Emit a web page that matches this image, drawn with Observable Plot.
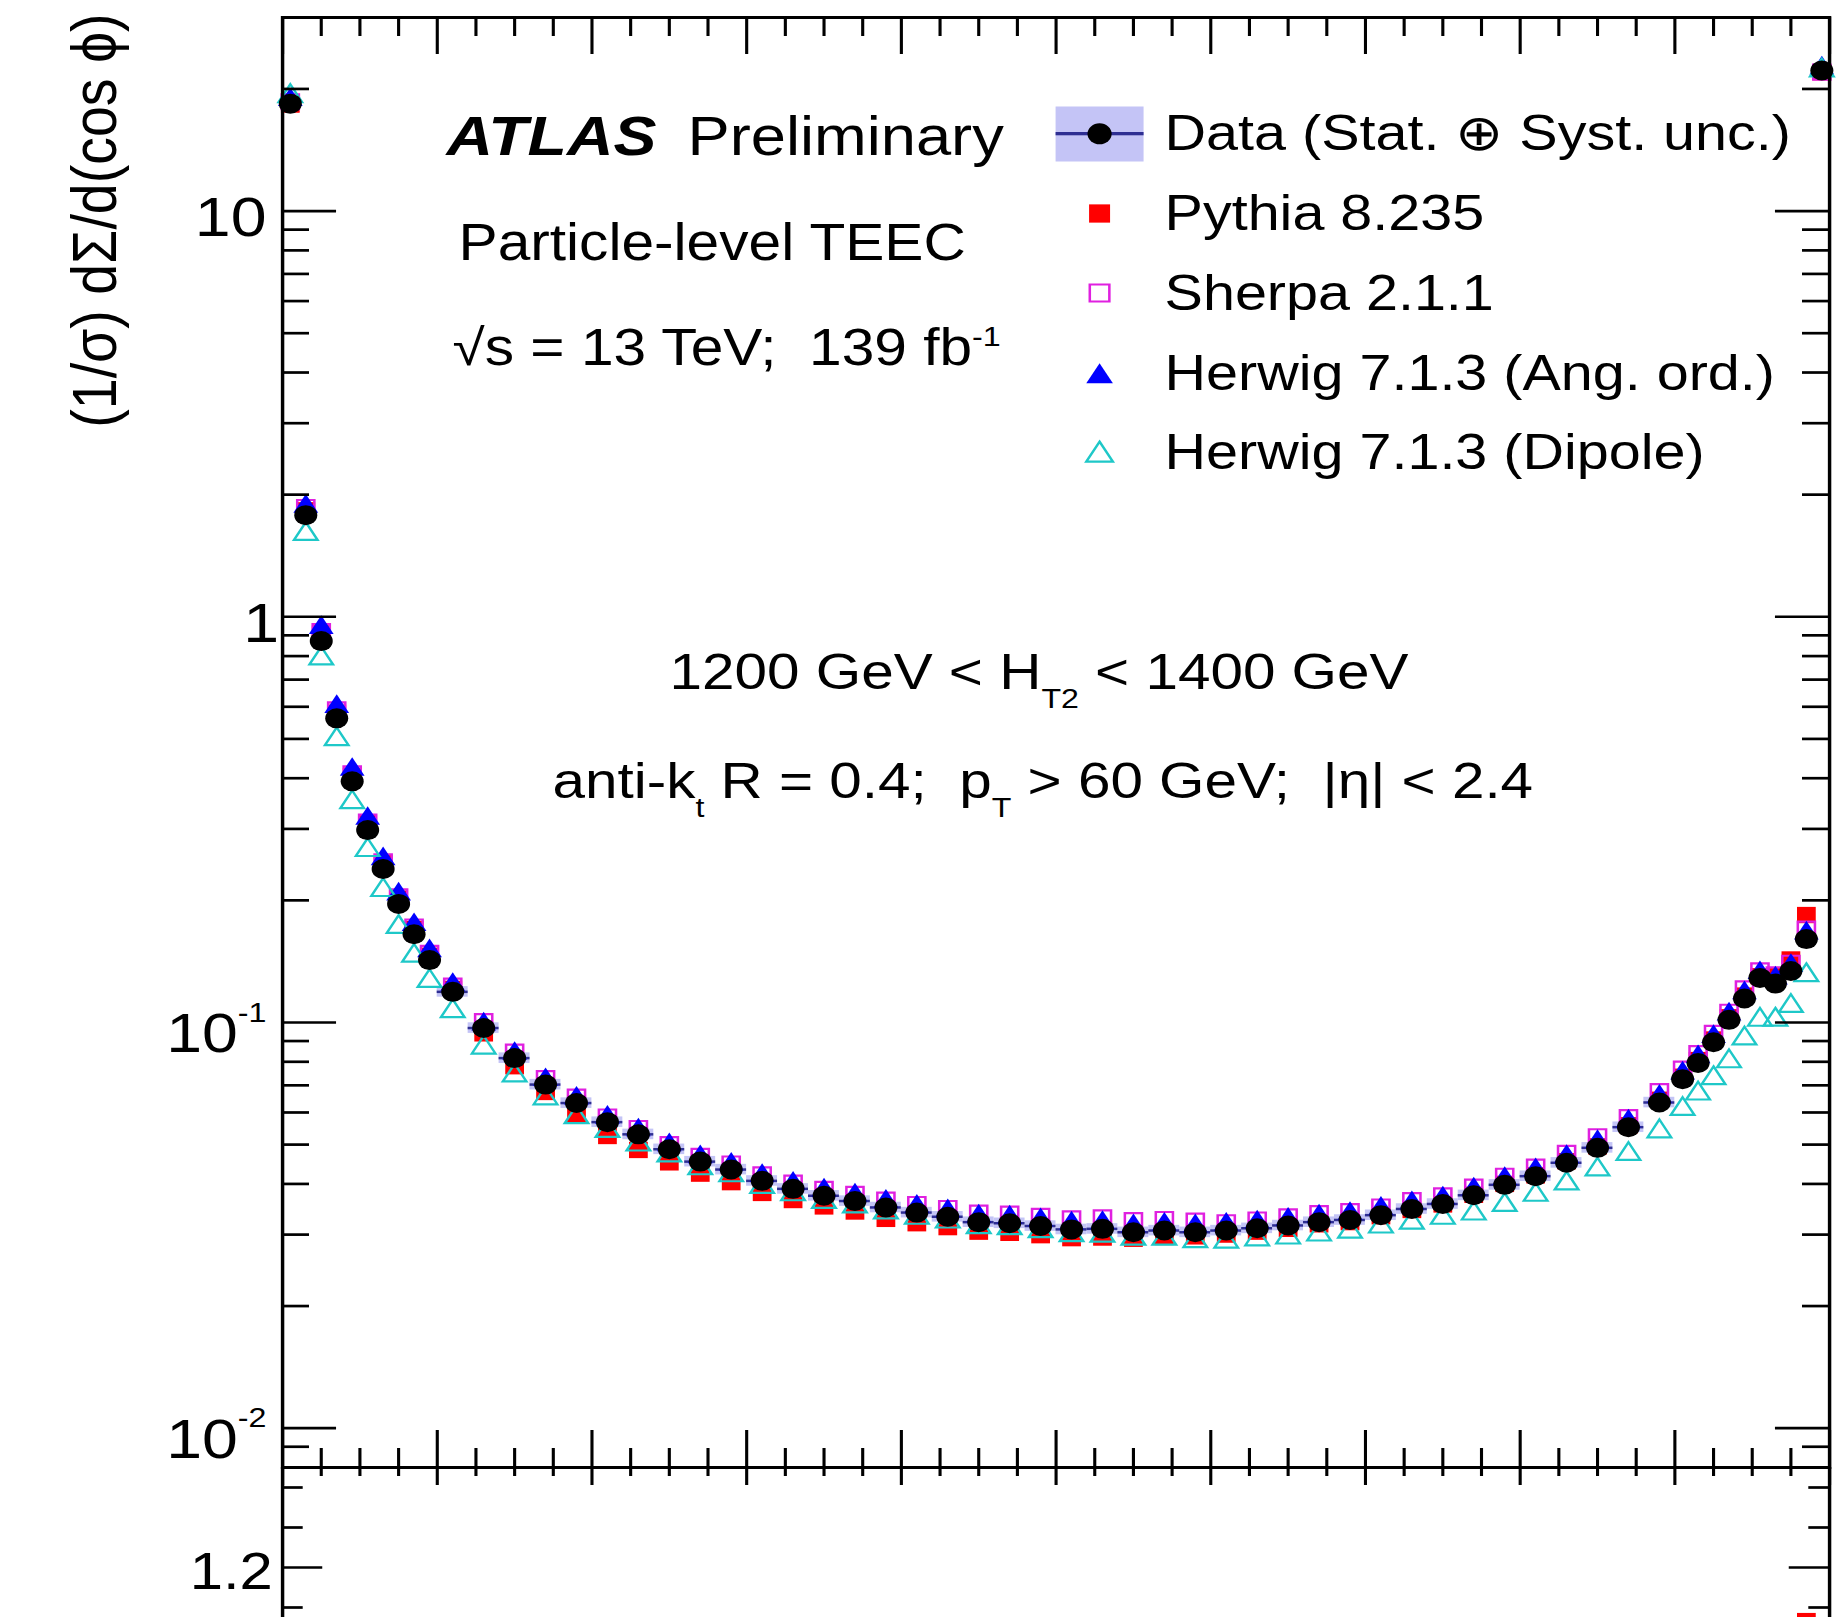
<!DOCTYPE html>
<html>
<head>
<meta charset="utf-8">
<script src="https://cdn.jsdelivr.net/npm/d3@7"></script>
<script src="https://cdn.jsdelivr.net/npm/@observablehq/plot@0.6"></script>
<style>
  html, body { margin: 0; padding: 0; background: #fff; overflow: hidden; }
  #chart { position: relative; width: 1839px; height: 1617px; overflow: hidden; background: #fff; }
  #chart svg { position: absolute; left: 0; }
  #chart text { white-space: pre; }
</style>
</head>
<body>
<div id="chart"></div>
<script>
// ---------------- data ----------------
const binEdges = [
  -1, -0.98, -0.96, -0.94, -0.92, -0.9, -0.88, -0.86, -0.84, -0.82, -0.8,
  -0.76, -0.72, -0.68, -0.64, -0.6, -0.56, -0.52, -0.48, -0.44, -0.4,
  -0.36, -0.32, -0.28, -0.24, -0.2, -0.16, -0.12, -0.08, -0.04, 0,
  0.04, 0.08, 0.12, 0.16, 0.2, 0.24, 0.28, 0.32, 0.36, 0.4,
  0.44, 0.48, 0.52, 0.56, 0.6, 0.64, 0.68, 0.72, 0.76, 0.8,
  0.82, 0.84, 0.86, 0.88, 0.9, 0.92, 0.94, 0.96, 0.98, 1
];
const dataValues = [
  18.4, 1.78, 0.871, 0.562, 0.393, 0.298, 0.239, 0.196, 0.165, 0.1425,
  0.119, 0.0969, 0.0817, 0.0703, 0.0633, 0.0568, 0.0530, 0.0487, 0.0454, 0.0434,
  0.0407, 0.0389, 0.0374, 0.0363, 0.0350, 0.0340, 0.0332, 0.0322, 0.0320, 0.0315,
  0.0309, 0.0310, 0.0304, 0.0307, 0.0304, 0.0307, 0.0311, 0.0316, 0.0322, 0.0326,
  0.0335, 0.0347, 0.0357, 0.0375, 0.0398, 0.0418, 0.0451, 0.0491, 0.0552, 0.0635,
  0.0725, 0.0795, 0.0894, 0.1015, 0.1146, 0.1288, 0.1247, 0.1339, 0.1605, 22.2
];
const dataRelUnc = [
  0.04, 0.04, 0.03, 0.03, 0.03, 0.03, 0.03, 0.03, 0.03, 0.03,
  0.03, 0.03, 0.03, 0.03, 0.03, 0.03, 0.03, 0.03, 0.03, 0.03,
  0.03, 0.03, 0.03, 0.03, 0.03, 0.03, 0.03, 0.03, 0.03, 0.03,
  0.03, 0.03, 0.03, 0.03, 0.03, 0.03, 0.03, 0.03, 0.03, 0.03,
  0.03, 0.03, 0.03, 0.03, 0.03, 0.03, 0.03, 0.03, 0.03, 0.03,
  0.03, 0.03, 0.03, 0.03, 0.03, 0.03, 0.03, 0.03, 0.04, 0.04
];
const pythia = [
  18.3, 1.83, 0.91, 0.58, 0.405, 0.31, 0.247, 0.202, 0.170, 0.146,
  0.121, 0.094, 0.078, 0.0674, 0.0590, 0.0525, 0.0485, 0.0452, 0.0424, 0.0404,
  0.0380, 0.0365, 0.0352, 0.0342, 0.0328, 0.0320, 0.0313, 0.0305, 0.0303, 0.0299,
  0.0294, 0.0295, 0.0293, 0.0296, 0.0297, 0.0300, 0.0305, 0.0310, 0.0318, 0.0322,
  0.0333, 0.0345, 0.0356, 0.0376, 0.0400, 0.0420, 0.0455, 0.0495, 0.0558, 0.0645,
  0.0735, 0.0808, 0.0908, 0.1030, 0.1165, 0.1300, 0.1300, 0.1430, 0.1840, 22.0
];
const sherpa = [
  18.6, 1.86, 0.92, 0.59, 0.41, 0.312, 0.249, 0.204, 0.172, 0.148,
  0.123, 0.1005, 0.0845, 0.0727, 0.0655, 0.0585, 0.0548, 0.0500, 0.0468, 0.0448,
  0.0421, 0.0402, 0.0388, 0.0377, 0.0365, 0.0356, 0.0348, 0.0339, 0.0337, 0.0333,
  0.0328, 0.0330, 0.0325, 0.0327, 0.0324, 0.0321, 0.0326, 0.0332, 0.0338, 0.0342,
  0.0351, 0.0364, 0.0374, 0.0393, 0.0418, 0.0440, 0.0476, 0.0523, 0.0583, 0.0676,
  0.0768, 0.0838, 0.0940, 0.1060, 0.1210, 0.1340, 0.1310, 0.1400, 0.1700, 22.0
];
const herwigAO = [
  18.8, 1.87, 0.94, 0.60, 0.42, 0.318, 0.253, 0.207, 0.174, 0.150,
  0.124, 0.099, 0.0838, 0.0722, 0.0650, 0.0583, 0.0543, 0.0499, 0.0466, 0.0447,
  0.0419, 0.0401, 0.0386, 0.0375, 0.0362, 0.0352, 0.0343, 0.0333, 0.0331, 0.0326,
  0.0320, 0.0321, 0.0315, 0.0318, 0.0315, 0.0318, 0.0322, 0.0327, 0.0333, 0.0338,
  0.0348, 0.0359, 0.0369, 0.0388, 0.0412, 0.0433, 0.0467, 0.0508, 0.0571, 0.0657,
  0.0750, 0.0822, 0.0922, 0.1048, 0.1182, 0.1325, 0.1285, 0.1380, 0.1660, 22.5
];
const herwigDipole = [
  19.2, 1.60, 0.789, 0.499, 0.349, 0.266, 0.212, 0.172, 0.146, 0.1265,
  0.1066, 0.0867, 0.0740, 0.0650, 0.0584, 0.0540, 0.0500, 0.0470, 0.0437, 0.0420,
  0.0393, 0.0377, 0.0361, 0.0352, 0.0340, 0.0330, 0.0323, 0.0313, 0.0311, 0.0306,
  0.0299, 0.0298, 0.0293, 0.0293, 0.0289, 0.0288, 0.0292, 0.0295, 0.0300, 0.0305,
  0.0314, 0.0321, 0.0330, 0.0338, 0.0355, 0.0376, 0.0401, 0.0434, 0.0474, 0.0539,
  0.0612, 0.0668, 0.0729, 0.0802, 0.0913, 0.1015, 0.1016, 0.1098, 0.1308, 22.2
];

// axis ticks
const xMajorTicks = [-1, -0.8, -0.6, -0.4, -0.2, 0, 0.2, 0.4, 0.6, 0.8, 1];
const xMinorTicks = [-0.95, -0.9, -0.85, -0.75, -0.7, -0.65, -0.55, -0.5, -0.45, -0.35, -0.3, -0.25,
  -0.15, -0.1, -0.05, 0.05, 0.1, 0.15, 0.25, 0.3, 0.35, 0.45, 0.5, 0.55, 0.65, 0.7, 0.75, 0.85, 0.9, 0.95];
const yMajorTicks = [0.01, 0.1, 1, 10];
const yMinorTicks = [0.008, 0.009, 0.02, 0.03, 0.04, 0.05, 0.06, 0.07, 0.08, 0.09,
  0.2, 0.3, 0.4, 0.5, 0.6, 0.7, 0.8, 0.9, 2, 3, 4, 5, 6, 7, 8, 9, 20, 30];
const yLabelPlain = [10];
const yLabelOne = [1];
const yLabelExp = [0.1, 0.01];
const yLabelExpText = ["10~{-1}", "10~{-2}"];
const ratioMajorTicks = [0.8, 1, 1.2];
const ratioMinorTicks = [0.72, 0.76, 0.84, 0.88, 0.92, 0.96, 1.04, 1.08, 1.12, 1.16, 1.24, 1.28];
const ratioLabelTicks = [1.2];   // the only ratio label inside the visible window

// texts
const yTitle = "(1/σ) dΣ/d(cos ϕ)";
const legendLabels = ["Data (Stat. ⊕ Syst. unc.)", "Pythia 8.235", "Sherpa 2.1.1",
  "Herwig 7.1.3 (Ang. ord.)", "Herwig 7.1.3 (Dipole)"];

// ---------------- layout ----------------
const S = 1.15;                       // horizontal stretch of the original figure
const FULL_W = 1839, FULL_H = 1617;
const W0 = FULL_W / S;
const ML = 282 / S, MR = W0 - 1829 / S, MT = 17, PANEL_BOTTOM = 1467;
const innerW = W0 - ML - MR;
const innerH1 = PANEL_BOTTOM - MT;
const RATIO_H = 600, RATIO_MB = 100;
const fx = xf => xf / S - ML;          // page x -> offset from frame left
const fy = yf => yf - MT;              // page y -> offset from frame top
const FONT = "'Liberation Sans', Arial, Helvetica, sans-serif";

const BAND = "#c4c4f6", NAVY = "#2e2e92", RED = "#ff0000", MAGENTA = "#e020e0",
      BLUE = "#0000ff", CYAN = "#1ec8c8";
const TW = 2.7;

const rows = dataValues.map((v, i) => ({
  lo: binEdges[i], hi: binEdges[i + 1], x: (binEdges[i] + binEdges[i + 1]) / 2,
  data: v, unc: dataRelUnc[i],
  pythia: pythia[i], sherpa: sherpa[i], herwigAO: herwigAO[i], herwigDipole: herwigDipole[i]
}));

const note = (txt, dx, dy, o = {}) => Plot.text([txt], {
  text: d => d, frameAnchor: "top-left", dx, dy, textAnchor: "start",
  lineAnchor: "bottom", fontSize: 50, fill: "black", ...o
});
const legendBaselines = [149, 229.5, 309.5, 389, 468.5];
const legendMarkerY = [133.3, 213, 292.5, 376, 454.5];
const LX = fx(1099);

// ---------------- upper panel ----------------
const upper = Plot.plot({
  width: W0, height: FULL_H,
  marginLeft: ML, marginRight: MR, marginTop: MT, marginBottom: FULL_H - PANEL_BOTTOM,
  style: {fontFamily: FONT, background: "white", color: "black"},
  x: {domain: [-1, 1], axis: null},
  y: {type: "log", domain: [0.008, 30], axis: null},
  marks: [
    // data uncertainty band and bin-width bars
    Plot.rect(rows, {x1: "lo", x2: "hi", y1: d => d.data * (1 - d.unc), y2: d => d.data * (1 + d.unc), fill: BAND}),
    Plot.ruleY(rows, {x1: "lo", x2: "hi", y: "data", stroke: NAVY, strokeWidth: 2.5}),
    // predictions
    Plot.dot(rows, {x: "x", y: "pythia", symbol: "square", r: 9.2, fill: RED}),
    Plot.dot(rows, {x: "x", y: "sherpa", symbol: "square", r: 8.4, fill: "none", stroke: MAGENTA, strokeWidth: 2.2}),
    Plot.dot(rows, {x: "x", y: "herwigAO", symbol: "triangle", r: 8, fill: BLUE}),
    Plot.dot(rows, {x: "x", y: "herwigDipole", symbol: "triangle", r: 7.6, fill: "none", stroke: CYAN, strokeWidth: 2.2}),
    // data
    Plot.dot(rows, {x: "x", y: "data", r: 10, fill: "black"}),

    // inward ticks
    Plot.tickY(yMajorTicks, {stroke: "black", strokeWidth: TW, insetRight: innerW - 47}),
    Plot.tickY(yMajorTicks, {stroke: "black", strokeWidth: TW, insetLeft: innerW - 47}),
    Plot.tickY(yMinorTicks, {stroke: "black", strokeWidth: TW, insetRight: innerW - 23.5}),
    Plot.tickY(yMinorTicks, {stroke: "black", strokeWidth: TW, insetLeft: innerW - 23.5}),
    Plot.tickX(xMajorTicks, {stroke: "black", strokeWidth: TW, insetBottom: innerH1 - 37}),
    Plot.tickX(xMajorTicks, {stroke: "black", strokeWidth: TW, insetTop: innerH1 - 37}),
    Plot.tickX(xMinorTicks, {stroke: "black", strokeWidth: TW, insetBottom: innerH1 - 19}),
    Plot.tickX(xMinorTicks, {stroke: "black", strokeWidth: TW, insetTop: innerH1 - 19}),
    Plot.frame({stroke: "black", strokeWidth: 3}),

    // tick labels
    Plot.text(yLabelPlain, {y: d => d, text: d => String(d), frameAnchor: "left", dx: -14, dy: 7, textAnchor: "end", fontSize: 56}),
    Plot.text(yLabelOne, {y: d => d, text: d => String(d), frameAnchor: "left", dx: -3, dy: 7, textAnchor: "end", fontSize: 56}),
    Plot.text(yLabelExp, {y: d => d, text: (d, i) => yLabelExpText[i], frameAnchor: "left", dx: -14, dy: 12, textAnchor: "end", fontSize: 56}),

    // y title
    Plot.text([yTitle], {text: d => d, frameAnchor: "top-left", dx: fx(115), dy: fy(13), rotate: -90,
      textAnchor: "end", lineAnchor: "bottom", fontSize: 55.5, fill: "black"}),

    // annotations
    note("ATLAS", fx(446), fy(154), {fontSize: 56, fontWeight: "bold", fontStyle: "italic"}),
    note("Preliminary", fx(687), fy(154), {fontSize: 55}),
    note("Particle-level TEEC", fx(458), fy(259), {fontSize: 51}),
    note("√s = 13 TeV;  139 fb^{-1}", fx(452), fy(364), {fontSize: 51}),
    note("1200 GeV < H_{T2} < 1400 GeV", fx(669), fy(688), {fontSize: 50.8}),
    note("anti-k_{t} R = 0.4;  p_{T} > 60 GeV;  |η| < 2.4", fx(552), fy(797), {fontSize: 50.8}),

    // legend
    Plot.frame({fill: BAND, stroke: "none", insetLeft: fx(1055), insetRight: innerW - fx(1143),
      insetTop: fy(106), insetBottom: innerH1 - fy(161)}),
    Plot.frame({fill: NAVY, stroke: "none", insetLeft: fx(1055), insetRight: innerW - fx(1143),
      insetTop: fy(131.5), insetBottom: innerH1 - fy(134.8)}),
    Plot.dot([0], {frameAnchor: "top-left", dx: LX, dy: fy(legendMarkerY[0]), r: 10.5, fill: "black"}),
    Plot.dot([0], {frameAnchor: "top-left", dx: LX, dy: fy(legendMarkerY[1]), r: 10.3, symbol: "square", fill: RED}),
    Plot.dot([0], {frameAnchor: "top-left", dx: LX, dy: fy(legendMarkerY[2]), r: 9.6, symbol: "square", fill: "none", stroke: MAGENTA, strokeWidth: 2.2}),
    Plot.dot([0], {frameAnchor: "top-left", dx: LX, dy: fy(legendMarkerY[3]), r: 8.6, symbol: "triangle", fill: BLUE}),
    Plot.dot([0], {frameAnchor: "top-left", dx: LX, dy: fy(legendMarkerY[4]), r: 8.6, symbol: "triangle", fill: "none", stroke: CYAN, strokeWidth: 2.2}),
    ...legendLabels.map((t, i) => note(t, fx(1164), fy(legendBaselines[i]), {fontSize: 50}))
  ]
});

// ---------------- ratio panel ----------------
const lower = Plot.plot({
  width: W0, height: RATIO_H + RATIO_MB,
  marginLeft: ML, marginRight: MR, marginTop: 0, marginBottom: RATIO_MB,
  style: {fontFamily: FONT, background: "transparent", color: "black"},
  x: {domain: [-1, 1], axis: null},
  y: {domain: [0.7, 1.3], axis: null},
  marks: [
    Plot.rect(rows, {x1: "lo", x2: "hi", y1: d => 1 - d.unc, y2: d => 1 + d.unc, fill: BAND, clip: true}),
    Plot.ruleY(rows, {x1: "lo", x2: "hi", y: () => 1, stroke: NAVY, strokeWidth: 2.5, clip: true}),
    Plot.dot(rows, {x: "x", y: d => d.pythia / d.data, symbol: "square", r: 9.2, fill: RED, clip: true}),
    Plot.dot(rows, {x: "x", y: d => d.sherpa / d.data, symbol: "square", r: 8.4, fill: "none", stroke: MAGENTA, strokeWidth: 2.2, clip: true}),
    Plot.dot(rows, {x: "x", y: d => d.herwigAO / d.data, symbol: "triangle", r: 8, fill: BLUE, clip: true}),
    Plot.dot(rows, {x: "x", y: d => d.herwigDipole / d.data, symbol: "triangle", r: 7.6, fill: "none", stroke: CYAN, strokeWidth: 2.2, clip: true}),

    Plot.tickY(ratioMajorTicks, {stroke: "black", strokeWidth: TW, insetRight: innerW - 35}),
    Plot.tickY(ratioMajorTicks, {stroke: "black", strokeWidth: TW, insetLeft: innerW - 35}),
    Plot.tickY(ratioMinorTicks, {stroke: "black", strokeWidth: TW, insetRight: innerW - 18}),
    Plot.tickY(ratioMinorTicks, {stroke: "black", strokeWidth: TW, insetLeft: innerW - 18}),
    Plot.tickX(xMajorTicks, {stroke: "black", strokeWidth: TW, insetBottom: RATIO_H - 18}),
    Plot.tickX(xMinorTicks, {stroke: "black", strokeWidth: TW, insetBottom: RATIO_H - 9}),
    Plot.frame({stroke: "black", strokeWidth: 3}),
    Plot.text(ratioLabelTicks, {y: d => d, text: d => String(d), frameAnchor: "left", dx: -8.5, dy: 5, textAnchor: "end", fontSize: 52})
  ]
});

// ---------------- mount ----------------
const chart = document.getElementById("chart");
chart.append(upper, lower);
function stretch(svg, h, topPx) {
  svg.setAttribute("width", FULL_W);
  svg.setAttribute("height", h);
  svg.setAttribute("preserveAspectRatio", "none");
  svg.style.width = FULL_W + "px";
  svg.style.height = h + "px";
  svg.style.maxWidth = "none";
  svg.style.top = topPx + "px";
}
stretch(upper, FULL_H, 0);
stretch(lower, RATIO_H + RATIO_MB, PANEL_BOTTOM);

// sub/superscript markup:  ^{..} superscript, _{..} subscript, ~{..} exponent of a tick label
const KIND = {"^": {scale: 0.55, shift: -0.37}, "_": {scale: 0.55, shift: 0.38}, "~": {scale: 0.5, shift: -0.55}};
function richText(svg) {
  svg.querySelectorAll("text").forEach(t => {
    const s = t.textContent;
    if (!/[\^_~]\{/.test(s)) return;
    const fs = parseFloat(getComputedStyle(t).fontSize) || 50;
    while (t.firstChild) t.removeChild(t.firstChild);
    let cur = 0;
    const add = (txt, kind) => {
      const ts = document.createElementNS("http://www.w3.org/2000/svg", "tspan");
      const target = kind ? KIND[kind].shift * fs : 0;
      ts.setAttribute("dy", (target - cur).toFixed(2));
      cur = target;
      if (kind) ts.setAttribute("font-size", (KIND[kind].scale * fs).toFixed(2));
      ts.textContent = txt;
      t.appendChild(ts);
    };
    const re = /([\^_~])\{([^}]*)\}/g;
    let last = 0, m;
    while ((m = re.exec(s))) {
      if (m.index > last) add(s.slice(last, m.index), null);
      add(m[2], m[1]);
      last = re.lastIndex;
    }
    if (last < s.length) add(s.slice(last), null);
  });
}
richText(upper);
richText(lower);
</script>
</body>
</html>
